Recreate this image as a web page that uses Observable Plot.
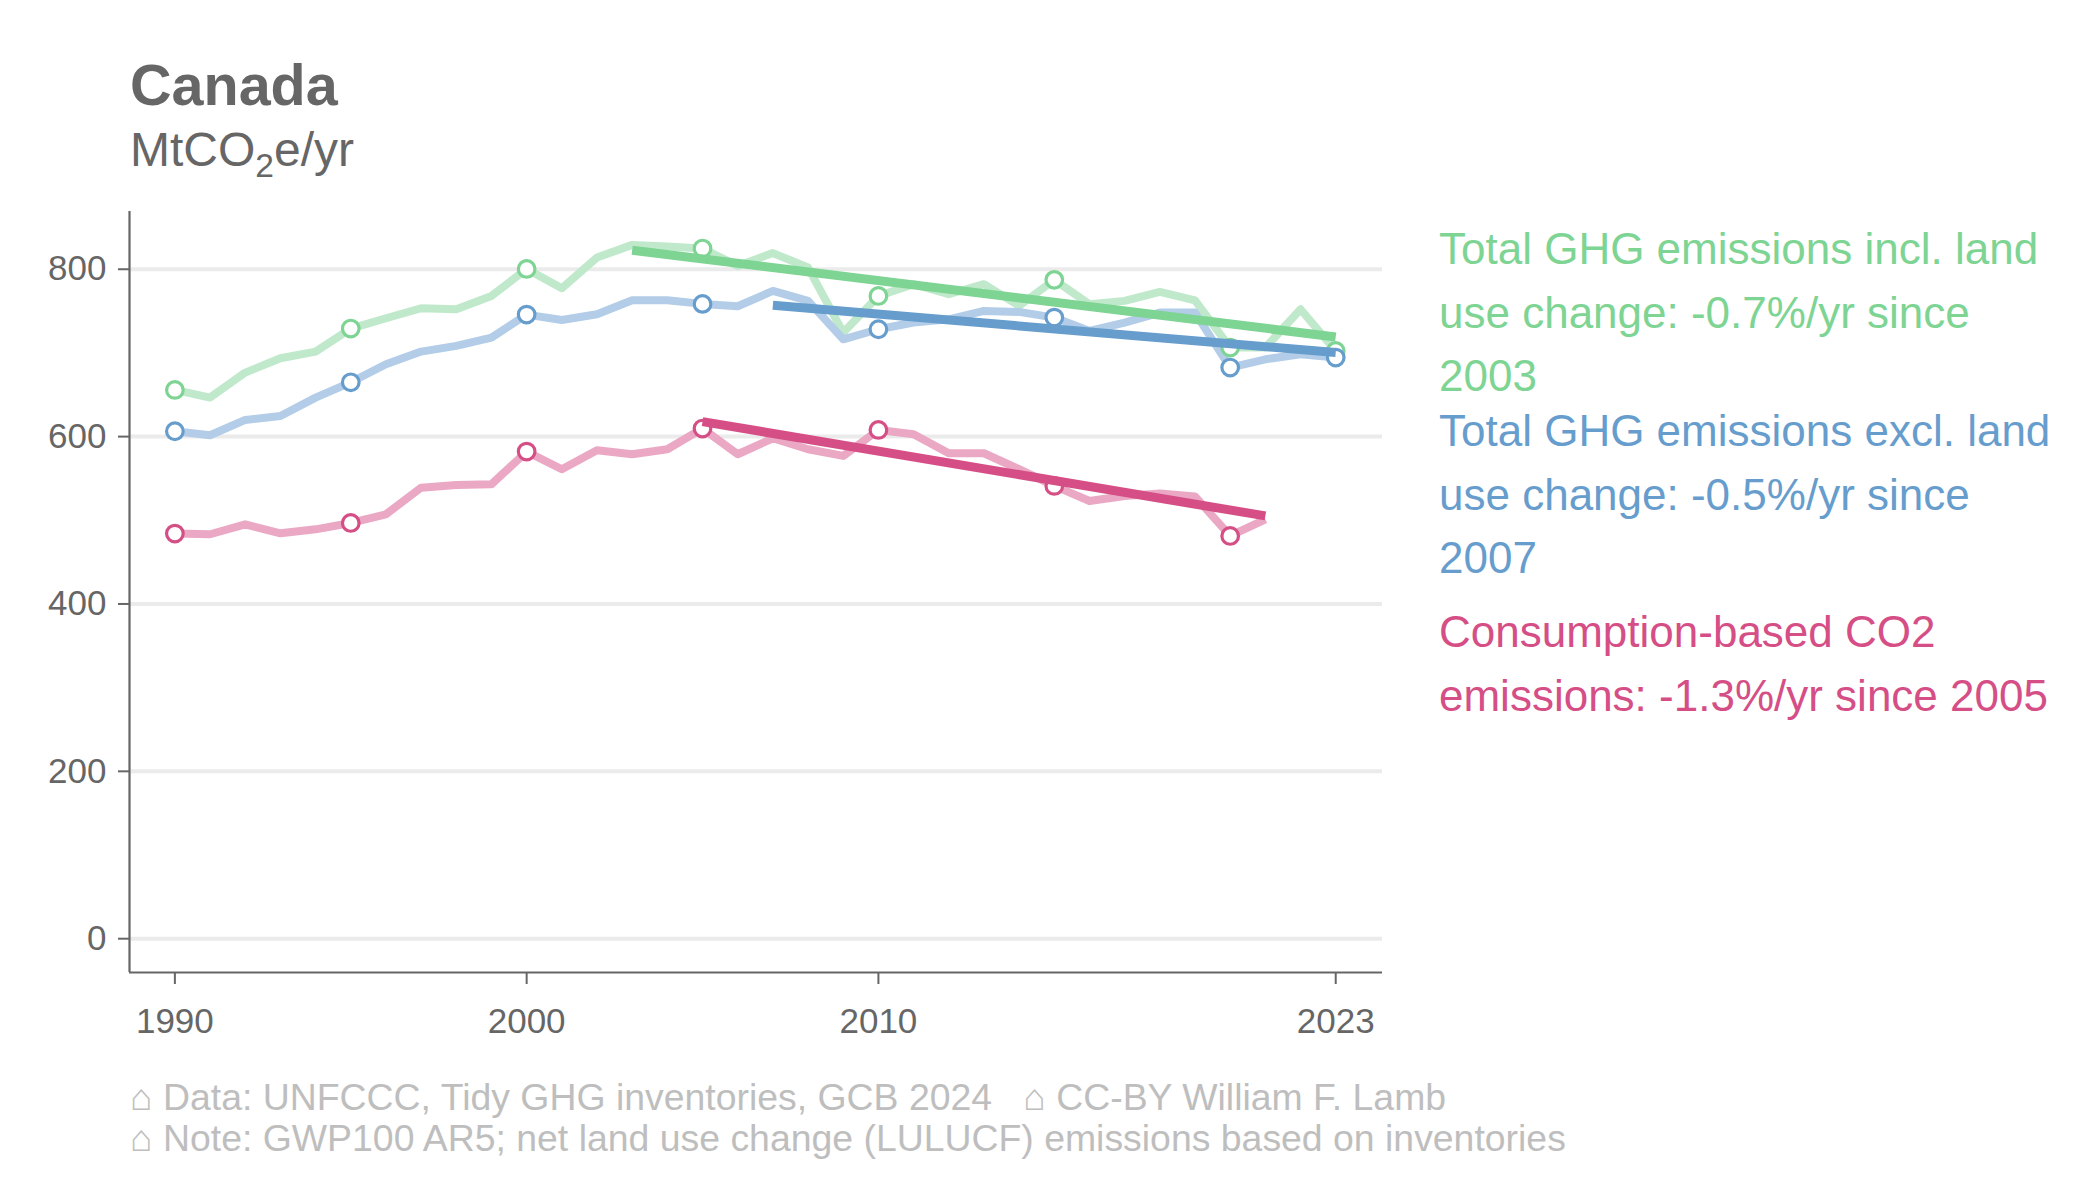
<!DOCTYPE html>
<html>
<head>
<meta charset="utf-8">
<script src="https://cdn.jsdelivr.net/npm/d3@7"></script>
<script src="https://cdn.jsdelivr.net/npm/@observablehq/plot@0.6"></script>
<style>
  html, body { margin: 0; padding: 0; background: #fff; }
  #wrap { position: relative; width: 2100px; height: 1200px; overflow: hidden;
          font-family: "Liberation Sans", Arial, Helvetica, sans-serif; }
  #chart { position: absolute; left: 0; top: 0; }
  .abs { position: absolute; white-space: pre; }
</style>
</head>
<body>
<div id="wrap">
  <div id="chart"></div>
  <div class="abs" style="left:130px;top:57px;font-size:57.5px;line-height:57px;font-weight:bold;color:#666">Canada</div>
  <div class="abs" style="left:130px;top:126px;font-size:48px;line-height:48px;color:#666">MtCO<span style="font-size:0.7em;position:relative;top:0.32em">2</span>e/yr</div>
  <div id="labels"></div>
  <div class="abs" style="left:130px;top:1077px;font-size:37.4px;line-height:41px;color:#bebebe">⌂ Data: UNFCCC, Tidy GHG inventories, GCB 2024   ⌂ CC-BY William F. Lamb
⌂ Note: GWP100 AR5; net land use change (LULUCF) emissions based on inventories</div>
</div>
<script>
// ---- data ----
const years = [1990,1991,1992,1993,1994,1995,1996,1997,1998,1999,2000,2001,2002,2003,2004,2005,2006,2007,2008,2009,2010,2011,2012,2013,2014,2015,2016,2017,2018,2019,2020,2021,2022,2023];
const totalInclLUC = [655.8,646.6,676.5,693.6,701.6,729.1,741.4,753.4,752.2,768.1,800.4,777.3,814.0,829.1,827.1,824.7,804.0,819.3,802.0,724.3,768.1,782.1,770.1,782.1,756.2,787.3,758.2,762.2,772.9,762.9,706.4,706.4,752.2,702.4];
const totalExclLUC = [606.4,601.6,619.9,624.7,646.6,664.9,686.5,701.6,708.4,718.3,745.8,739.4,746.2,762.9,762.9,758.6,755.8,774.1,762.2,716.3,728.3,736.3,740.2,750.2,749.0,742.2,726.3,736.3,748.2,748.2,682.5,692.4,698.4,694.4];
const consumptionCO2 = [484.1,483.3,495.2,484.5,489.2,496.8,507.2,539.0,542.2,543.0,582.1,561.0,583.7,578.9,584.9,609.6,578.9,598.0,584.9,576.9,608.0,602.8,580.1,580.1,561.0,541.1,523.1,529.1,531.9,528.4,481.3,501.2];
const markerYears = [1990,1995,2000,2005,2010,2015,2020,2023];

const trendInclYears = [2003, 2023];
const trendInclVals = [822.7, 719.1];
const trendExclYears = [2007, 2023];
const trendExclVals = [757.0, 700.4];
const trendConsYears = [2005, 2021];
const trendConsVals = [617.9, 505.2];

const xTicks = [1990, 2000, 2010, 2023];
const yTicks = [0, 200, 400, 600, 800];
const xDomain = [1988.71, 2024.33];
const yDomain = [-40.4, 869];

const labelLines = [
  ["Total GHG emissions incl. land", "use change: -0.7%/yr since", "2003"],
  ["Total GHG emissions excl. land", "use change: -0.5%/yr since", "2007"],
  ["Consumption-based CO2", "emissions: -1.3%/yr since 2005"]
];

// ---- styles ----
const dark = {incl: "#7dd493", excl: "#669dcd", cons: "#d54e86"};
const light = {incl: "#bfe9ca", excl: "#b3cde8", cons: "#eba8c4"};

const rows = (xs, vals) => vals.map((v, i) => ({year: xs[i], value: v}));
const incl = rows(years, totalInclLUC);
const excl = rows(years, totalExclLUC);
const cons = rows(years, consumptionCO2);
const mk = arr => arr.filter(d => markerYears.includes(d.year));

const lineOpts = c => ({x: "year", y: "value", stroke: c, strokeWidth: 8, strokeLinejoin: "round", strokeLinecap: "butt"});
const dotOpts = c => ({x: "year", y: "value", r: 8.3, stroke: c, strokeWidth: 3.2, fill: "white"});
const trendOpts = c => ({x: "year", y: "value", stroke: c, strokeWidth: 9, strokeLinecap: "butt"});

const chart = Plot.plot({
  width: 2100,
  height: 1200,
  marginLeft: 129,
  marginRight: 718,
  marginTop: 211,
  marginBottom: 228,
  style: {fontFamily: '"Liberation Sans", Arial, sans-serif', color: "#666", background: "transparent"},
  x: {domain: xDomain, label: null},
  y: {domain: yDomain, label: null},
  marks: [
    Plot.gridY({ticks: yTicks, stroke: "#ebebeb", strokeOpacity: 1, strokeWidth: 4}),
    Plot.line(incl, lineOpts(light.incl)),
    Plot.line(excl, lineOpts(light.excl)),
    Plot.line(cons, lineOpts(light.cons)),
    Plot.dot(mk(incl), dotOpts(dark.incl)),
    Plot.dot(mk(excl), dotOpts(dark.excl)),
    Plot.dot(mk(cons), dotOpts(dark.cons)),
    Plot.line(rows(trendInclYears, trendInclVals), trendOpts(dark.incl)),
    Plot.line(rows(trendExclYears, trendExclVals), trendOpts(dark.excl)),
    Plot.line(rows(trendConsYears, trendConsVals), trendOpts(dark.cons)),
    Plot.ruleX([xDomain[0]], {stroke: "#666", strokeWidth: 2.2}),
    Plot.ruleY([yDomain[0]], {stroke: "#666", strokeWidth: 2.2}),
    Plot.axisY({ticks: yTicks, tickFormat: d => String(d), tickSize: 11, tickPadding: 12, fontSize: 35, color: "#666", strokeWidth: 2, label: null}),
    Plot.axisX({ticks: xTicks, tickFormat: d => String(d), tickSize: 12, tickPadding: 24, fontSize: 35, color: "#666", strokeWidth: 2, label: null})
  ]
});
document.getElementById("chart").appendChild(chart);

// ---- right-hand labels ----
const labelTops = [217, 399, 600];
const labelColors = [dark.incl, dark.excl, dark.cons];
const host = document.getElementById("labels");
labelLines.forEach((lines, i) => {
  const div = document.createElement("div");
  div.className = "abs";
  div.style.left = "1439px";
  div.style.top = labelTops[i] + "px";
  div.style.fontSize = "44px";
  div.style.lineHeight = "63.5px";
  div.style.color = labelColors[i];
  div.textContent = lines.join("\n");
  host.appendChild(div);
});
</script>
</body>
</html>
